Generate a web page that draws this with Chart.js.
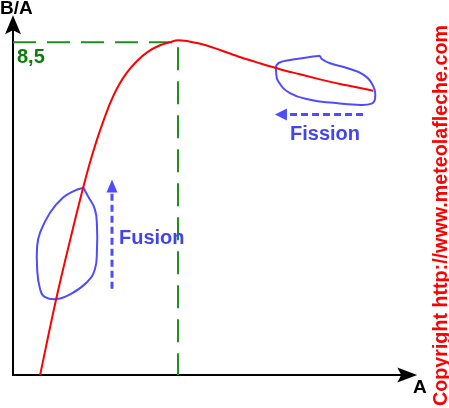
<!DOCTYPE html>
<html>
<head>
<meta charset="utf-8">
<script src="https://cdn.jsdelivr.net/npm/chart.js@4/dist/chart.umd.min.js"></script>
<style>
  body { margin: 0; background: #fff; }
</style>
</head>
<body>
<canvas id="grafico" width="449" height="408"></canvas>
<script>
// Courbe de l'énergie de liaison par nucléon (B/A) en fonction de A
const curveA = [9.2, 14.6, 19.4, 23.8, 26.1, 28.5, 30.6, 32.9, 35.6, 38.7, 42.1, 45.5, 49.9, 53.3, 56, 63.5, 70.3, 77.0, 83.8, 90.6, 97.4, 104.2, 111.0, 117.8, 122.2];
const curveB = [0, 1.92, 3.45, 4.78, 5.42, 6.01, 6.47, 6.93, 7.36, 7.73, 8.02, 8.24, 8.42, 8.50, 8.55, 8.46, 8.30, 8.12, 7.96, 7.81, 7.68, 7.55, 7.43, 7.33, 7.26];

// zone entourée "fusion" (noyaux légers)
const fusionA = [23.9, 25.5, 27.8, 28.5, 28.5, 27.8, 25.1, 19.4, 14.9, 10.9, 9.2, 8.2, 8.2, 9.2, 12.6, 17.0, 21.0, 23.9];
const fusionB = [4.78, 4.56, 4.23, 3.80, 3.21, 2.70, 2.37, 2.06, 1.94, 1.99, 2.19, 2.70, 3.29, 3.64, 4.15, 4.53, 4.71, 4.78];

// zone entourée "fission" (noyaux lourds)
const fissionA = [104.2, 104.8, 107.6, 113.3, 118.9, 122.3, 122.9, 121.7, 116.6, 108.7, 100.8, 94.0, 90.0, 89.3, 89.5, 91.6, 96.3, 100.8, 104.2];
const fissionB = [8.15, 8.07, 7.96, 7.84, 7.67, 7.37, 7.07, 6.93, 6.90, 6.95, 7.03, 7.20, 7.50, 7.75, 7.92, 8.01, 8.07, 8.12, 8.15];

// maximum : A = 56, B/A = 8,5
const peakA = 56;
const peakB = 8.5;
const peakLabel = '8,5';

// flèches (début -> pointe)
const fusionArrowA = [33.6, 33.6];
const fusionArrowB = [2.2, 4.99];
const fissionArrowA = [118.8, 88.9];
const fissionArrowB = [6.65, 6.65];

// extrémités des axes
const axisEndA = 137.2;
const axisEndB = 9.19;

const toPoints = (xs, ys) => xs.map((x, i) => ({ x: x, y: ys[i] }));

const RED = '#ff0000';
const BLUE = '#4d4dff';
const GREEN = '#1f8f1f';

function arrowHead(ctx, tipX, tipY, dir, len, half, notch) {
    // dir: 'up' ou 'left' ou 'right'
    ctx.beginPath();
    if (dir === 'up') {
        ctx.moveTo(tipX, tipY);
        ctx.lineTo(tipX - half, tipY + len);
        ctx.lineTo(tipX, tipY + len - notch);
        ctx.lineTo(tipX + half, tipY + len);
    } else if (dir === 'left') {
        ctx.moveTo(tipX, tipY);
        ctx.lineTo(tipX + len, tipY - half);
        ctx.lineTo(tipX + len - notch, tipY);
        ctx.lineTo(tipX + len, tipY + half);
    } else {
        ctx.moveTo(tipX, tipY);
        ctx.lineTo(tipX - len, tipY - half);
        ctx.lineTo(tipX - len + notch, tipY);
        ctx.lineTo(tipX - len, tipY + half);
    }
    ctx.closePath();
    ctx.fill();
}

const decor = {
    id: 'decor',
    beforeDatasetsDraw(chart) {
        const { ctx, scales: { x, y } } = chart;
        const x0 = x.getPixelForValue(0);
        const y0 = y.getPixelForValue(0);
        const xEnd = x.getPixelForValue(axisEndA);
        const yEnd = y.getPixelForValue(axisEndB);
        ctx.save();
        ctx.strokeStyle = '#000';
        ctx.fillStyle = '#000';
        ctx.lineWidth = 2;
        ctx.beginPath();
        ctx.moveTo(x0, y0);
        ctx.lineTo(x0, yEnd + 12);
        ctx.moveTo(x0 - 1, y0);
        ctx.lineTo(xEnd - 12, y0);
        ctx.stroke();
        arrowHead(ctx, x0, yEnd, 'up', 19, 8, 4);
        arrowHead(ctx, xEnd, y0, 'right', 20, 7.5, 4);
        ctx.restore();
    },
    afterDatasetsDraw(chart) {
        const { ctx, scales: { x, y } } = chart;
        ctx.save();
        // pointes des flèches bleues
        ctx.fillStyle = BLUE;
        arrowHead(ctx, x.getPixelForValue(fusionArrowA[1]), y.getPixelForValue(fusionArrowB[1]), 'up', 13, 5.5, 0);
        arrowHead(ctx, x.getPixelForValue(fissionArrowA[1]), y.getPixelForValue(fissionArrowB[1]), 'left', 12, 6, 0);

        // textes
        ctx.textAlign = 'left';
        ctx.textBaseline = 'alphabetic';
        ctx.fillStyle = '#000';
        ctx.font = 'bold 19px "Liberation Sans", Arial, sans-serif';
        ctx.fillText('B/A', 0, 14);
        ctx.fillText('A', 413, 393);

        ctx.fillStyle = '#0b7d0b';
        ctx.font = 'bold 20px "Liberation Sans", Arial, sans-serif';
        ctx.fillText(peakLabel, 17, y.getPixelForValue(peakB) + 21);

        ctx.fillStyle = '#4444ee';
        ctx.fillText('Fusion', 119, 244);
        ctx.fillText('Fission', 290, 140);

        // copyright vertical
        const txt = 'Copyright http://www.meteolafleche.com';
        ctx.fillStyle = '#ff0000';
        ctx.font = 'bold 20px "Liberation Sans", Arial, sans-serif';
        const size = 20 * 381 / ctx.measureText(txt).width;
        ctx.font = 'bold ' + size.toFixed(2) + 'px "Liberation Sans", Arial, sans-serif';
        ctx.translate(447, 406);
        ctx.rotate(-Math.PI / 2);
        ctx.fillText(txt, 0, 0);
        ctx.restore();
    }
};

const ctx = document.getElementById('grafico').getContext('2d');
const grafico = new Chart(ctx, {
    type: 'scatter',
    data: {
        datasets: [
            {
                label: 'B/A',
                data: toPoints(curveA, curveB),
                showLine: true,
                borderColor: RED,
                borderWidth: 2,
                pointRadius: 0,
                cubicInterpolationMode: 'monotone',
                fill: false,
                clip: false
            },
            {
                label: 'fusion',
                data: toPoints(fusionA, fusionB),
                showLine: true,
                borderColor: BLUE,
                borderWidth: 2,
                pointRadius: 0,
                tension: 0.45,
                fill: false,
                clip: false
            },
            {
                label: 'fission',
                data: toPoints(fissionA, fissionB),
                showLine: true,
                borderColor: BLUE,
                borderWidth: 2,
                pointRadius: 0,
                tension: 0.45,
                fill: false,
                clip: false
            },
            {
                label: 'flèche fusion',
                data: [{ x: fusionArrowA[0], y: fusionArrowB[0] }, { x: fusionArrowA[1], y: fusionArrowB[1] - 0.25 }],
                showLine: true,
                borderColor: BLUE,
                borderWidth: 3,
                borderDash: [7, 4],
                pointRadius: 0,
                clip: false
            },
            {
                label: 'flèche fission',
                data: [{ x: fissionArrowA[0], y: fissionArrowB[0] }, { x: fissionArrowA[1] + 3.5, y: fissionArrowB[1] }],
                showLine: true,
                borderColor: BLUE,
                borderWidth: 3,
                borderDash: [7, 4],
                pointRadius: 0,
                clip: false
            },
            {
                label: 'maximum',
                data: [{ x: 0, y: peakB }, { x: peakA, y: peakB }, { x: peakA, y: 0 }],
                showLine: true,
                borderColor: GREEN,
                borderWidth: 2,
                borderDash: [23, 11],
                pointRadius: 0,
                clip: false
            }
        ]
    },
    options: {
        responsive: false,
        animation: false,
        layout: { padding: { left: 13, right: 23.5, top: 3, bottom: 33 } },
        plugins: {
            legend: { display: false },
            tooltip: { enabled: false }
        },
        scales: {
            x: { type: 'linear', min: 0, max: 140, display: false },
            y: { type: 'linear', min: 0, max: 9.5, display: false }
        }
    },
    plugins: [decor]
});
</script>
</body>
</html>
